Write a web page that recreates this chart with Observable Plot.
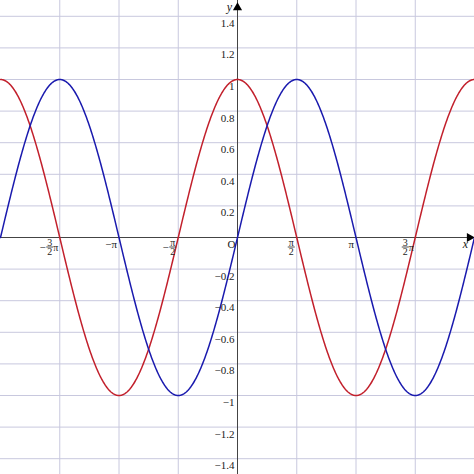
<!DOCTYPE html>
<html><head><meta charset="utf-8">
<script src="https://cdn.jsdelivr.net/npm/d3@7"></script>
<script src="https://cdn.jsdelivr.net/npm/@observablehq/plot@0.6"></script>
<style>body{margin:0;background:#fff}</style>
</head><body><div id="chart"></div>
<script>
const PI = Math.PI;
const xDomain = [-2 * PI, 2 * PI];
const yDomain = [-1.5, 1.5];
const xGrid = [-3 * PI / 2, -PI, -PI / 2, PI / 2, PI, 3 * PI / 2];
const yGrid = [-1.4, -1.2, -1, -0.8, -0.6, -0.4, -0.2, 0.2, 0.4, 0.6, 0.8, 1, 1.2, 1.4];
const yTickLabels = ["−1.4", "−1.2", "−1", "−0.8", "−0.6", "−0.4", "−0.2", "0.2", "0.4", "0.6", "0.8", "1", "1.2", "1.4"];
const xWholeLabels = [{v: -PI, t: "−π"}, {v: PI, t: "π"}];
const xFracLabels = [
  {v: -3 * PI / 2, pre: "−", num: "3", den: "2", post: "π"},
  {v: -PI / 2, pre: "−", num: "π", den: "2", post: ""},
  {v: PI / 2, pre: "", num: "π", den: "2", post: ""},
  {v: 3 * PI / 2, pre: "", num: "3", den: "2", post: "π"}
];
// sample positions for the function curves y = sin x (blue) and y = cos x (red)
const xs = d3.range(0, 801).map(i => -2 * PI + i * (4 * PI / 800));
const sinData = xs.map(x => ({x, y: Math.sin(x)}));
const cosData = xs.map(x => ({x, y: Math.cos(x)}));

const yLabelData = yGrid.map((v, i) => ({v, t: yTickLabels[i]}));
const withPost = xFracLabels.filter(d => d.post);
const noPost = xFracLabels.filter(d => !d.post);
const barSymbol = {draw(ctx) { ctx.moveTo(-3.5, 0); ctx.lineTo(3.5, 0); }};
const serif = "Liberation Serif, Times New Roman, serif";
const gridColor = "#c8c8de";

function fracMarks(data, c) {
  return [
    Plot.text(data, {x: "v", y: 0, text: "num", dx: c, dy: 5, fontSize: 10, fontFamily: serif, fill: "#222"}),
    Plot.text(data, {x: "v", y: 0, text: "den", dx: c, dy: 14.5, fontSize: 10, fontFamily: serif, fill: "#222"}),
    Plot.dot(data, {x: "v", y: 0, symbol: barSymbol, dx: c, dy: 9.5, stroke: "#222", strokeWidth: 0.8, fill: "none"}),
    Plot.text(data.filter(d => d.pre), {x: "v", y: 0, text: "pre", dx: c - 4, dy: 10, textAnchor: "end", fontSize: 11, fontFamily: serif, fill: "#222"})
  ];
}

const chart = Plot.plot({
  width: 474, height: 474,
  margin: 0,
  style: {background: "#fff"},
  x: {domain: xDomain, axis: null},
  y: {domain: yDomain, axis: null},
  marks: [
    Plot.ruleX(xGrid, {stroke: gridColor, strokeWidth: 1}),
    Plot.ruleY(yGrid, {stroke: gridColor, strokeWidth: 1}),
    Plot.ruleY([0], {stroke: "#444", strokeWidth: 1}),
    Plot.ruleX([0], {stroke: "#444", strokeWidth: 1}),
    Plot.dot([{x: xDomain[1], y: 0}], {x: "x", y: "y", symbol: "triangle", r: 3.4, rotate: 90, dx: -5, fill: "#000", stroke: "none"}),
    Plot.dot([{x: 0, y: yDomain[1]}], {x: "x", y: "y", symbol: "triangle", r: 3.4, dy: 7, fill: "#000", stroke: "none"}),
    Plot.line(cosData, {x: "x", y: "y", stroke: "#c2202c", strokeWidth: 1.5}),
    Plot.line(sinData, {x: "x", y: "y", stroke: "#1a1aae", strokeWidth: 1.5}),
    Plot.text(yLabelData, {x: 0, y: "v", text: "t", dx: -3, dy: 7, textAnchor: "end", fontSize: 11, fontFamily: serif, fill: "#222"}),
    Plot.text(xWholeLabels, {x: "v", y: 0, text: "t", dx: -2, dy: 7, textAnchor: "end", fontSize: 11, fontFamily: serif, fill: "#222"}),
    ...fracMarks(withPost, -10),
    Plot.text(withPost, {x: "v", y: 0, text: "post", dx: -1.5, dy: 10, textAnchor: "end", fontSize: 10, fontFamily: serif, fill: "#222"}),
    ...fracMarks(noPost, -5.5),
    Plot.text(["O"], {x: 0, y: 0, text: d => d, dx: -2, dy: 7, textAnchor: "end", fontSize: 11, fontFamily: serif, fill: "#222"}),
    Plot.text(["x"], {x: xDomain[1], y: 0, text: d => d, dx: -9, dy: 7, fontSize: 12, fontStyle: "italic", fontFamily: serif, fill: "#222"}),
    Plot.text(["y"], {x: 0, y: yDomain[1], text: d => d, dx: -8, dy: 7, fontSize: 12, fontStyle: "italic", fontFamily: serif, fill: "#222"})
  ]
});
document.getElementById("chart").appendChild(chart);
</script>
</body></html>
